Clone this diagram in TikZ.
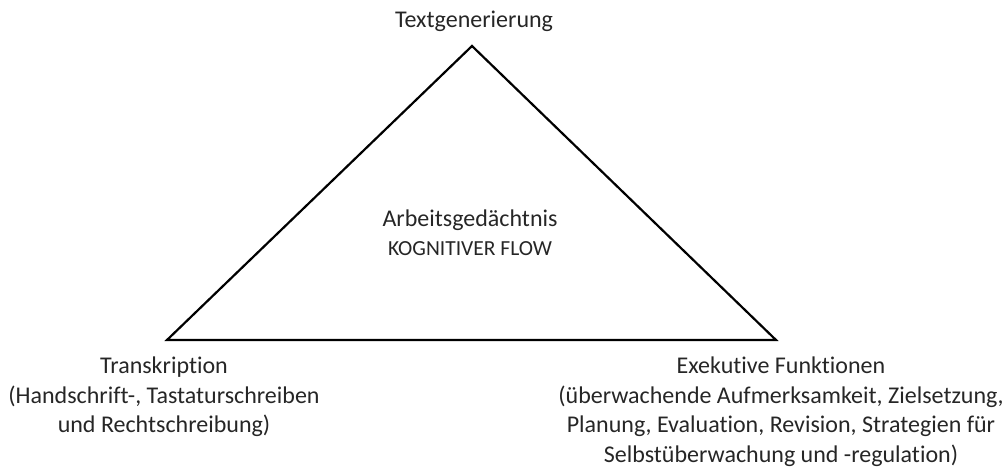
\documentclass[tikz,border=0pt]{standalone}
\usepackage{fontspec}
\setmainfont[Ligatures=NoCommon]{Carlito}
\begin{document}
\begin{tikzpicture}[x=1pt,y=-1pt,
  lbl/.style={font=\fontsize{24}{29.5}\selectfont, align=center, inner sep=0pt, text=black!85},
  sub/.style={font=\fontsize{21.5}{24}\selectfont, align=center, inner sep=0pt, text=black!85},
  tri/.style={draw=black, line width=2.2pt, line join=miter}]
\useasboundingbox (0,0) rectangle (1006,468);
\coordinate (top) at (472,46);
\coordinate (bl) at (167,340);
\coordinate (br) at (776,340);
\draw[tri] (top) -- (bl) -- (br) -- cycle;
\node[lbl, anchor=base] (tg) at (474,28) {Textgenerierung};
\node[lbl, anchor=base] (ag) at (470,226) {Arbeitsgedächtnis};
\node[sub, anchor=base] (kf) at (470,255) {KOGNITIVER FLOW};
\node[lbl, anchor=north] (tr) at (164,357) {Transkription\\(Handschrift-, Tastaturschreiben\\und Rechtschreibung)};
\node[lbl, anchor=north] (ef) at (781,357) {Exekutive Funktionen\\(überwachende Aufmerksamkeit, Zielsetzung,\\Planung, Evaluation, Revision, Strategien für\\Selbstüberwachung und -regulation)};
\end{tikzpicture}
\end{document}
